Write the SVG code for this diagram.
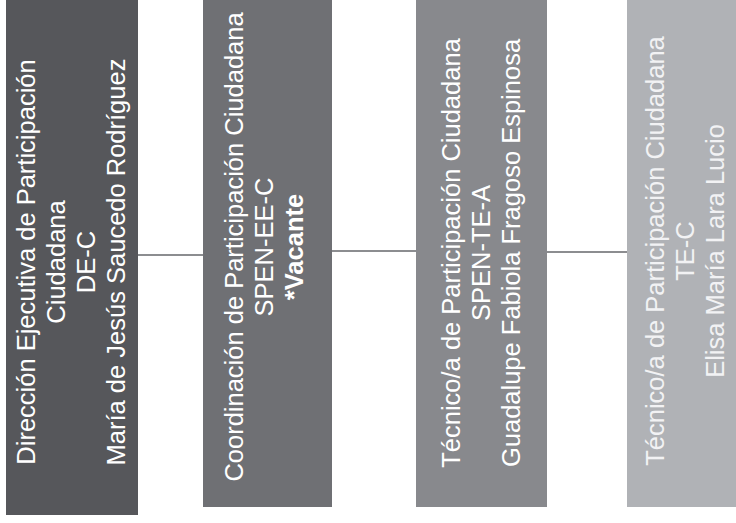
<svg xmlns="http://www.w3.org/2000/svg" width="736" height="523" viewBox="0 0 736 523">
<style>
.t{font-family:"Liberation Sans",Arial,sans-serif;font-size:25.5px;fill:#ffffff;text-anchor:middle}
.b{font-weight:bold}
.c{stroke:#8c8d90;stroke-width:2;fill:none}
</style>
<rect width="736" height="523" fill="#ffffff"/>
<g id="connectors">
<line class="c" x1="138" y1="255" x2="203" y2="255"/>
<line class="c" x1="332" y1="251" x2="416" y2="251"/>
<line class="c" x1="547" y1="252" x2="627" y2="252"/>
</g>
<g id="node1">
<rect x="6" y="0" width="132" height="515" fill="#56575b"/>
<text class="t" transform="translate(35,262) rotate(-90)">Dirección Ejecutiva de Participación</text>
<text class="t" transform="translate(65,262) rotate(-90)">Ciudadana</text>
<text class="t" transform="translate(95,262) rotate(-90)">DE-C</text>
<text class="t" transform="translate(125,262) rotate(-90)">María de Jesús Saucedo Rodríguez</text>
</g>
<g id="node2">
<rect x="203" y="0" width="129" height="507" fill="#6f7074"/>
<text class="t" transform="translate(243,247) rotate(-90)">Coordinación de Participación Ciudadana</text>
<text class="t" transform="translate(273,247) rotate(-90)">SPEN-EE-C</text>
<text class="t b" transform="translate(303,247) rotate(-90)">*Vacante</text>
</g>
<g id="node3">
<rect x="416" y="0" width="131" height="507" fill="#88898d"/>
<text class="t" transform="translate(460,253) rotate(-90)">Técnico/a de Participación Ciudadana</text>
<text class="t" transform="translate(490,253) rotate(-90)">SPEN-TE-A</text>
<text class="t" transform="translate(520,253) rotate(-90)">Guadalupe Fabiola Fragoso Espinosa</text>
</g>
<g id="node4">
<rect x="627" y="0" width="109" height="507" fill="#b0b2b6"/>
<text class="t" style="fill:#f2f2f4" transform="translate(664,251) rotate(-90)">Técnico/a de Participación Ciudadana</text>
<text class="t" style="fill:#f2f2f4" transform="translate(694,251) rotate(-90)">TE-C</text>
<text class="t" style="fill:#f2f2f4" transform="translate(724,251) rotate(-90)">Elisa María Lara Lucio</text>
</g>
</svg>
